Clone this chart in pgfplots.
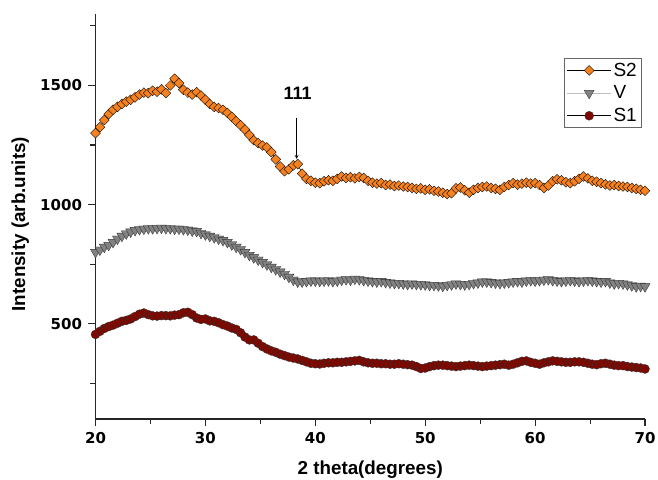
\documentclass[border=0pt]{standalone}
\usepackage{fontspec}
\setmainfont{Liberation Sans}
\newfontfamily\tickfont{DejaVu Sans}
\usepackage{pgfplots}
\pgfplotsset{compat=1.18}
\definecolor{sorange}{RGB}{245,130,32}
\definecolor{vgray}{RGB}{130,130,130}
\definecolor{sred}{RGB}{125,8,0}
\definecolor{vline}{RGB}{190,190,190}

\pgfplotstableread{
x y
20.0 1300
20.4 1325
20.8 1355
21.2 1380
21.6 1398
22.0 1410
22.4 1422
22.8 1432
23.2 1440
23.6 1450
24.0 1462
24.4 1470
24.8 1468
25.2 1478
25.6 1474
26.0 1484
26.4 1468
26.8 1500
27.2 1528
27.6 1510
28.0 1482
28.4 1470
28.8 1462
29.2 1472
29.6 1458
30.0 1440
30.4 1422
30.8 1410
31.2 1405
31.6 1398
32.0 1385
32.4 1368
32.8 1350
33.2 1333
33.6 1315
34.0 1292
34.4 1270
34.8 1258
35.2 1248
35.6 1240
36.0 1220
36.4 1190
36.8 1160
37.2 1140
37.6 1148
38.0 1165
38.4 1170
38.8 1130
39.2 1108
39.6 1100
40.0 1092
40.4 1090
40.8 1098
41.2 1102
41.6 1100
42.0 1108
42.4 1118
42.8 1112
43.2 1115
43.6 1110
44.0 1116
44.4 1112
44.8 1100
45.2 1092
45.6 1088
46.0 1090
46.4 1082
46.8 1084
47.2 1078
47.6 1080
48.0 1076
48.4 1074
48.8 1070
49.2 1066
49.6 1068
50.0 1062
50.4 1064
50.8 1058
51.2 1055
51.6 1050
52.0 1044
52.4 1048
52.8 1068
53.2 1072
53.6 1060
54.0 1050
54.4 1062
54.8 1070
55.2 1074
55.6 1076
56.0 1070
56.4 1066
56.8 1062
57.2 1074
57.6 1082
58.0 1090
58.4 1084
58.8 1088
59.2 1092
59.6 1088
60.0 1090
60.4 1082
60.8 1070
61.2 1080
61.6 1098
62.0 1106
62.4 1102
62.8 1094
63.2 1090
63.6 1098
64.0 1108
64.4 1118
64.8 1110
65.2 1100
65.6 1096
66.0 1090
66.4 1085
66.8 1080
67.2 1082
67.6 1078
68.0 1076
68.4 1074
68.8 1070
69.2 1066
69.6 1062
70.0 1058
}\datasii

\pgfplotstableread{
x y
20.0 800
20.4 810
20.8 822
21.2 830
21.6 842
22.0 856
22.4 868
22.8 878
23.2 886
23.6 892
24.0 896
24.4 898
24.8 900
25.2 900
25.6 901
26.0 902
26.4 900
26.8 900
27.2 898
27.6 898
28.0 896
28.4 894
28.8 890
29.2 888
29.6 880
30.0 874
30.4 868
30.8 862
31.2 856
31.6 850
32.0 842
32.4 832
32.8 822
33.2 812
33.6 800
34.0 788
34.4 778
34.8 768
35.2 758
35.6 748
36.0 738
36.4 728
36.8 718
37.2 708
37.6 696
38.0 684
38.4 676
38.8 676
39.2 678
39.6 680
40.0 680
40.4 679
40.8 680
41.2 681
41.6 678
42.0 680
42.4 684
42.8 686
43.2 684
43.6 688
44.0 686
44.4 682
44.8 680
45.2 678
45.6 676
46.0 678
46.4 674
46.8 672
47.2 670
47.6 670
48.0 668
48.4 666
48.8 668
49.2 666
49.6 665
50.0 664
50.4 662
50.8 662
51.2 660
51.6 658
52.0 662
52.4 664
52.8 668
53.2 666
53.6 664
54.0 666
54.4 670
54.8 672
55.2 676
55.6 676
56.0 674
56.4 672
56.8 670
57.2 672
57.6 674
58.0 676
58.4 678
58.8 676
59.2 680
59.6 682
60.0 680
60.4 682
60.8 684
61.2 686
61.6 682
62.0 680
62.4 678
62.8 680
63.2 682
63.6 680
64.0 678
64.4 680
64.8 682
65.2 680
65.6 678
66.0 676
66.4 678
66.8 672
67.2 668
67.6 670
68.0 668
68.4 664
68.8 660
69.2 656
69.6 658
70.0 656
}\datav

\pgfplotstableread{
x y
20.0 455
20.4 468
20.8 480
21.2 488
21.6 494
22.0 502
22.4 510
22.8 514
23.2 520
23.6 530
24.0 540
24.4 545
24.8 538
25.2 533
25.6 532
26.0 534
26.4 534
26.8 533
27.2 536
27.6 538
28.0 546
28.4 548
28.8 538
29.2 524
29.6 518
30.0 520
30.4 512
30.8 510
31.2 504
31.6 496
32.0 490
32.4 482
32.8 476
33.2 462
33.6 444
34.0 432
34.4 432
34.8 418
35.2 404
35.6 394
36.0 386
36.4 380
36.8 372
37.2 366
37.6 360
38.0 356
38.4 352
38.8 346
39.2 340
39.6 334
40.0 332
40.4 331
40.8 334
41.2 336
41.6 336
42.0 338
42.4 338
42.8 340
43.2 342
43.6 344
44.0 346
44.4 340
44.8 336
45.2 334
45.6 334
46.0 332
46.4 332
46.8 330
47.2 330
47.6 332
48.0 330
48.4 328
48.8 326
49.2 320
49.6 312
50.0 314
50.4 320
50.8 324
51.2 326
51.6 326
52.0 324
52.4 322
52.8 320
53.2 322
53.6 324
54.0 326
54.4 324
54.8 322
55.2 320
55.6 322
56.0 324
56.4 326
56.8 328
57.2 330
57.6 326
58.0 330
58.4 336
58.8 342
59.2 344
59.6 338
60.0 334
60.4 330
60.8 336
61.2 340
61.6 344
62.0 342
62.4 340
62.8 338
63.2 338
63.6 340
64.0 340
64.4 338
64.8 334
65.2 330
65.6 328
66.0 332
66.4 334
66.8 330
67.2 326
67.6 324
68.0 324
68.4 320
68.8 318
69.2 316
69.6 314
70.0 310
}\datasi

\begin{document}
\begin{tikzpicture}
\begin{axis}[
  scale only axis,
  width=549.5pt, height=405pt,
  at={(0pt,0pt)}, anchor=south west,
  xmin=20, xmax=70, ymin=100, ymax=1800,
  axis lines=left,
  axis line style={-, line width=1.3pt, black!85},
  xtick={20,30,40,50,60,70},
  minor xtick={25,35,45,55,65},
  ytick={500,1000,1500},
  minor ytick={250,750,1250,1750},
  tick align=outside,
  major tick length=7pt,
  minor tick length=5pt,
  tick style={line width=1.1pt, black!85},
  /pgf/number format/assume math mode=true,
  /pgf/number format/1000 sep={},
  ticklabel style={font=\tickfont\bfseries\fontsize{15}{17}\selectfont},
  xticklabel style={yshift=-3pt},
  yticklabel style={xshift=-3pt},
  xlabel={2 theta(degrees)},
  ylabel={Intensity (arb.units)},
  label style={font=\bfseries\fontsize{18.8}{21}\selectfont},
  xlabel style={at={(axis description cs:0.5,-0.124)}, anchor=center},
  ylabel style={at={(axis description cs:-0.137,0.481)}, anchor=center},
  legend style={at={(0.994,0.891)}, anchor=north east, draw=black!60,
    line width=0.8pt, font=\fontsize{19}{21}\selectfont,
    inner sep=2.5pt, row sep=4pt, cells={anchor=west}},
  legend image code/.code={\draw[#1,mark repeat=2,mark phase=2] plot coordinates {(0pt,0pt) (22pt,0pt) (44pt,0pt)};},
  clip=false,
]
\addplot[black, line width=0.6pt, mark=square*, mark size=3.5pt,
  mark options={rotate=45, fill=sorange, draw=black, line width=0.35pt, solid}]
  table[x=x,y=y] {\datasii};
\addlegendentry{S2}
\addplot[vline, line width=0.8pt, mark=triangle*, mark size=5.8pt,
  mark options={rotate=180, fill=vgray, draw=black!80, line width=0.35pt, solid}]
  table[x=x,y=y] {\datav};
\addlegendentry{V}
\addplot[black, line width=0.6pt, mark=*, mark size=4.5pt,
  mark options={fill=sred, draw=black!80, line width=0.35pt, solid}]
  table[x=x,y=y] {\datasi};
\addlegendentry{S1}
\draw[-stealth, line width=0.7pt] (axis cs:38.3,1365) -- (axis cs:38.3,1192);
\node[font=\bfseries\fontsize{18}{20}\selectfont] at (axis cs:38.4,1466) {111};
\end{axis}
\pgfresetboundingbox
\path (-95.5pt,-60pt) rectangle (562.5pt,419pt);
\end{tikzpicture}
\end{document}
